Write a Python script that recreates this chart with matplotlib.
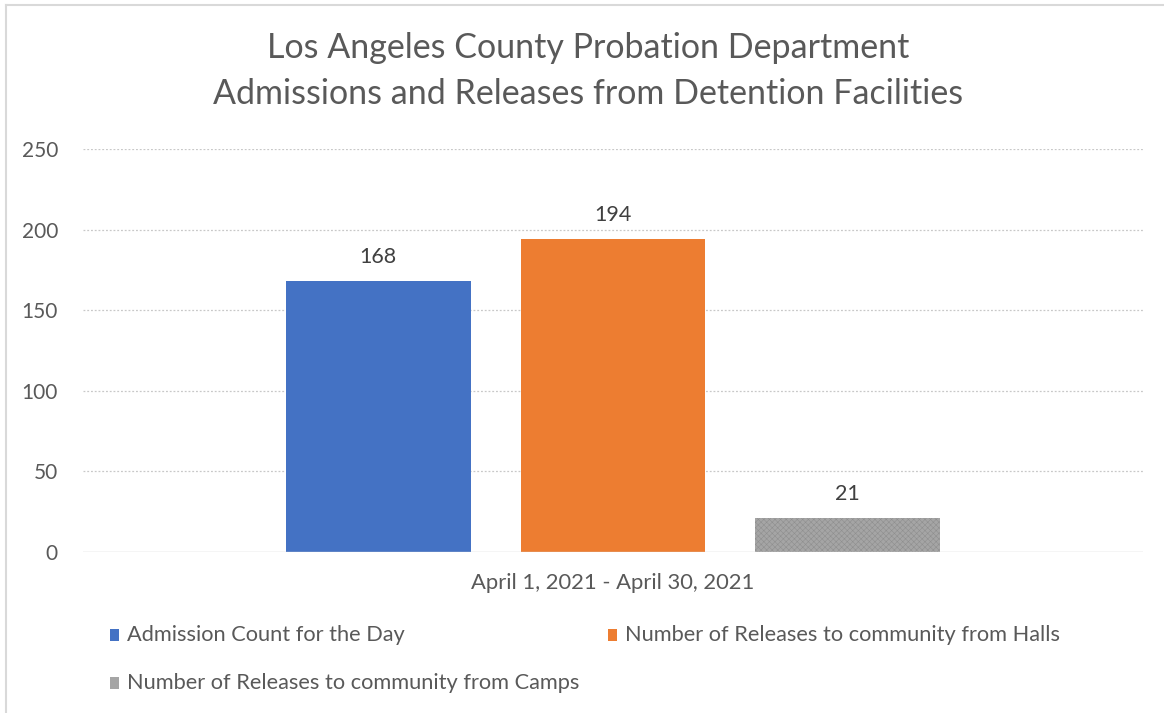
import matplotlib
matplotlib.use("Agg")
import matplotlib.pyplot as plt
from matplotlib.patches import Rectangle
from matplotlib.lines import Line2D

plt.rcParams['font.family'] = ['Lato', 'DejaVu Sans']
plt.rcParams['hatch.linewidth'] = 0.4

title = "Los Angeles County Probation Department\nAdmissions and Releases from Detention Facilities"
category = "April 1, 2021 - April 30, 2021"
series = ["Admission Count for the Day",
          "Number of Releases to community from Halls",
          "Number of Releases to community from Camps"]
values = [168, 194, 21]
colors = ["#4472C4", "#ED7D31", "#A5A5A5"]
yticks = [0, 50, 100, 150, 200, 250]

W, H = 1164, 713
fig = plt.figure(figsize=(W / 100, H / 100), dpi=100)
ax = fig.add_axes([83 / W, 1 - 552 / H, (1143 - 83) / W, (552 - 149) / H])

offsets = [-0.2215, 0.0, 0.2215]
bw = 0.1745
textc = "#595959"
for i, (v, c, s) in enumerate(zip(values, colors, series)):
    kw = {}
    if i == 2:
        kw = dict(hatch='xxxxxx', edgecolor='#8f8f8f', linewidth=0)
    ax.bar(offsets[i], v, width=bw, color=c, label=s, zorder=3, **kw)
    ax.annotate(str(v), (offsets[i], v), xytext=(0, 10), textcoords='offset points',
                ha='center', va='bottom', fontsize=15.5, color="#404040")

ax.set_xlim(-0.5, 0.5)
ax.set_ylim(0, 250)
ax.set_yticks(yticks)
ax.set_yticklabels([str(t) for t in yticks], fontsize=15, color=textc)
ax.set_xticks([0])
ax.set_xticklabels([category], fontsize=15.8, color=textc)
ax.tick_params(axis='both', length=0)
ax.tick_params(axis='y', pad=18)
ax.tick_params(axis='x', pad=15)
for sp in ax.spines.values():
    sp.set_visible(False)
for t in yticks[1:]:
    ax.axhline(t, color="#c8c8c8", linestyle=(0, (1.5, 1.5)), linewidth=0.9, zorder=1)
ax.axhline(0, color="#d0d0d0", linewidth=1.0, zorder=4)

fig.text(588 / W, 1 - 71 / H, title, ha='center', va='center', fontsize=24.5,
         color=textc, linespacing=1.55)

# legend
leg_pos = [(110, 635), (608, 635), (110, 683)]
for s, (x, y), c in zip(series, leg_pos, colors):
    fig.patches.append(Rectangle((x / W, 1 - (y + 6) / H), 9 / W, 12 / H,
                                 transform=fig.transFigure, facecolor=c, edgecolor='none'))
    fig.text((x + 17) / W, 1 - y / H, s, ha='left', va='center', fontsize=15.7, color=textc)

# border
fig.add_artist(Line2D([6 / W, 6 / W], [0, 1 - 5 / H], transform=fig.transFigure,
                      color="#d9d9d9", linewidth=1.5))
fig.add_artist(Line2D([6 / W, 1], [1 - 5 / H, 1 - 5 / H], transform=fig.transFigure,
                      color="#d9d9d9", linewidth=1.5))

fig.savefig("out.png", dpi=100, facecolor='white')
